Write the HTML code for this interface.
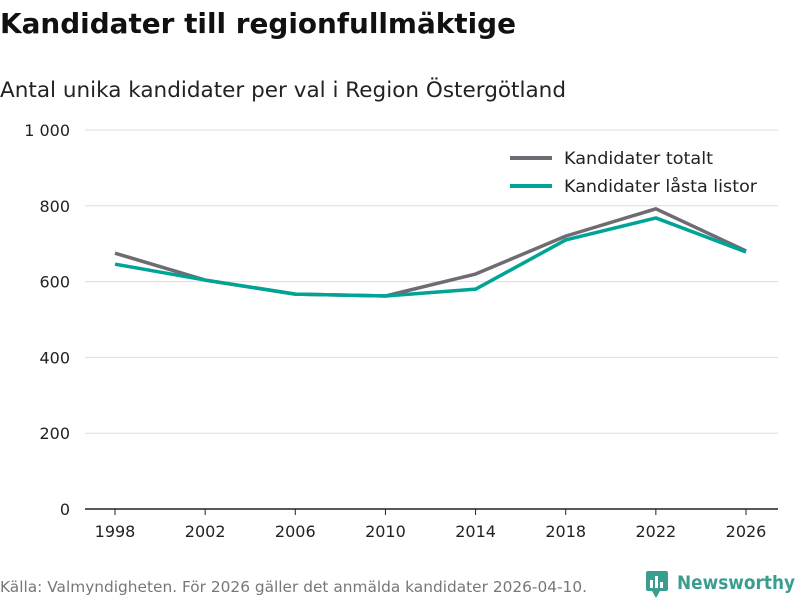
<!DOCTYPE html>
<html><head><meta charset="utf-8"><style>
body{margin:0;width:800px;height:600px;background:#fff;font-family:"DejaVu Sans","Liberation Sans",sans-serif;overflow:hidden}
</style></head><body>
<svg width="800" height="600" xmlns="http://www.w3.org/2000/svg">
<text x="0" y="33" font-size="28" font-weight="bold" fill="#111" textLength="516" lengthAdjust="spacingAndGlyphs">Kandidater till regionfullmäktige</text>
<text x="0" y="97" font-size="21.5" fill="#222" textLength="566" lengthAdjust="spacingAndGlyphs">Antal unika kandidater per val i Region Östergötland</text>
<g id="grid"></g>
<g id="lines"></g>
<g>
<line x1="510" y1="158" x2="552" y2="158" stroke="#6e6b73" stroke-width="4"/>
<text x="564" y="164" font-size="17" fill="#222" textLength="149" lengthAdjust="spacingAndGlyphs">Kandidater totalt</text>
<line x1="510" y1="186" x2="552" y2="186" stroke="#00a497" stroke-width="4"/>
<text x="564" y="192" font-size="17" fill="#222" textLength="193" lengthAdjust="spacingAndGlyphs">Kandidater låsta listor</text>
</g>
<text x="0" y="592" font-size="15" fill="#777" textLength="587" lengthAdjust="spacingAndGlyphs">Källa: Valmyndigheten. För 2026 gäller det anmälda kandidater 2026-04-10.</text>
<g>
<rect x="646" y="571" width="22" height="20" rx="2" fill="#3a9e8f"/>
<polygon points="652,591 660,591 656,598" fill="#3a9e8f"/>
<rect x="650" y="580" width="3" height="8" fill="#fff"/><rect x="655" y="576" width="3" height="12" fill="#fff"/><rect x="660" y="582" width="3" height="6" fill="#fff"/>
<text x="677" y="589" font-size="19" font-weight="bold" fill="#3a9e8f" textLength="118" lengthAdjust="spacingAndGlyphs">Newsworthy</text>
</g>
</svg>
<script>
const years=[1998,2002,2006,2010,2014,2018,2022,2026];
const totalt=[675,604,567,562,620,720,792,681];
const lasta=[646,604,567,562,580,710,768,678];
const yTicks=[0,200,400,600,800,1000];
const yTickLabels=["0","200","400","600","800","1 000"];
const NS="http://www.w3.org/2000/svg";
const x=v=>115+(v-1998)/28*631;
const y=v=>509-v*0.379;
const grid=document.getElementById('grid');
function mk(tag,attrs,parent){const e=document.createElementNS(NS,tag);for(const k in attrs)e.setAttribute(k,attrs[k]);parent.appendChild(e);return e;}
yTicks.forEach((t,i)=>{
 if(t>0){const l=mk('line',{x1:85,x2:778,y1:y(t),y2:y(t),stroke:'#ddd','stroke-width':1},grid);
 
 }
 const tx=mk('text',{x:70,y:y(t)+6,'text-anchor':'end','font-size':16,fill:'#222'},grid);
 tx.textContent=yTickLabels[i];
 
 
});
const ax=mk('line',{x1:85,x2:778,y1:509,y2:509,stroke:'#222','stroke-width':1.5},grid);


years.forEach(yr=>{
 const tk=mk('line',{x1:x(yr),x2:x(yr),y1:509,y2:515,stroke:'#222'},grid);
 
 
 const tx=mk('text',{x:x(yr),y:537,'text-anchor':'middle','font-size':16,fill:'#222'},grid);
 tx.textContent=yr;
 
 
});
const lines=document.getElementById('lines');
function series(vals,color,name){
 const p=mk('polyline',{points:vals.map((v,i)=>x(years[i])+','+y(v)).join(' '),fill:'none',stroke:color,'stroke-width':3.5,'stroke-linejoin':'round'},lines);
 
 
}
series(totalt,'#6e6b73','line-totalt');
series(lasta,'#00a497','line-lasta-listor');
</script>
</body></html>
